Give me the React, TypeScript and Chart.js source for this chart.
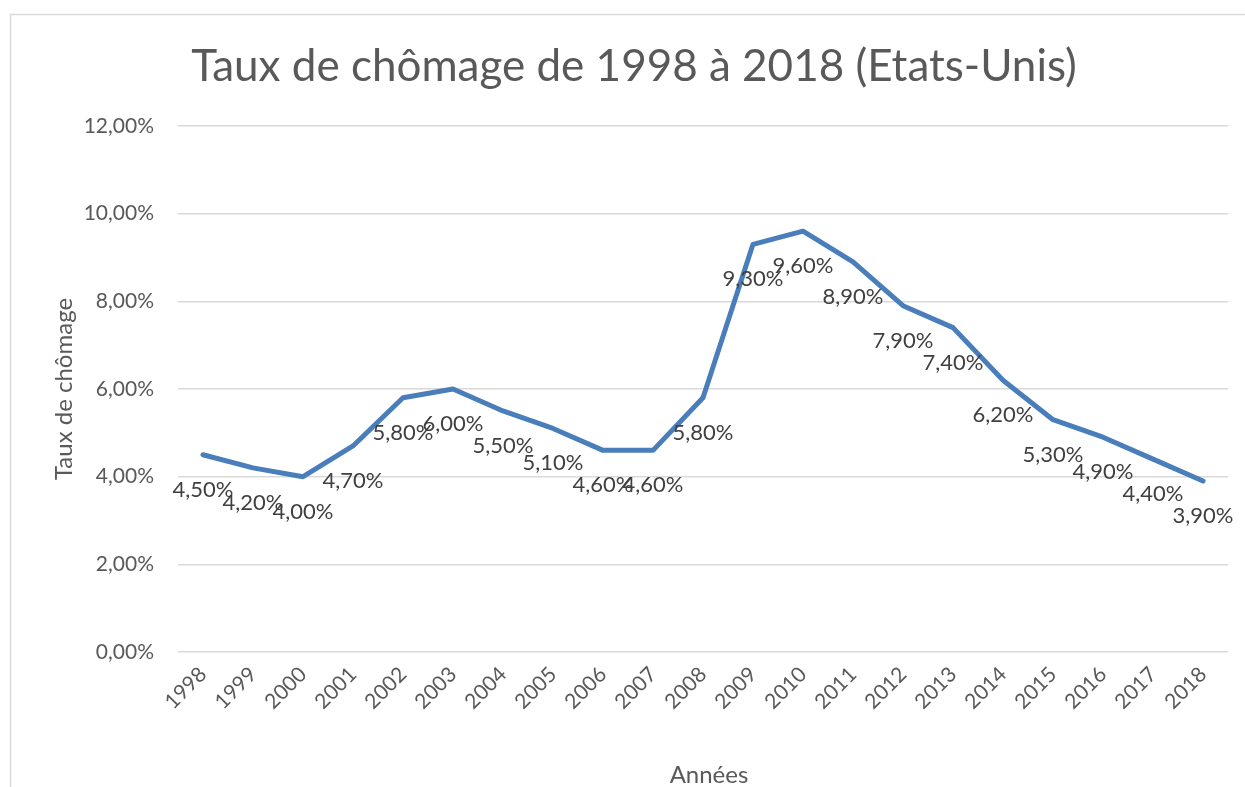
import React, { useEffect, useRef } from "react";
import { Chart, registerables } from "chart.js";

Chart.register(...registerables);

const years = ["1998","1999","2000","2001","2002","2003","2004","2005","2006","2007","2008","2009","2010","2011","2012","2013","2014","2015","2016","2017","2018"];
const rates = [4.5, 4.2, 4.0, 4.7, 5.8, 6.0, 5.5, 5.1, 4.6, 4.6, 5.8, 9.3, 9.6, 8.9, 7.9, 7.4, 6.2, 5.3, 4.9, 4.4, 3.9];
const titleText = "Taux de chômage de 1998 à 2018 (Etats-Unis)";
const yTitle = "Taux de chômage";
const xTitle = "Années";

const FONT = "Lato";
const fmt = (v: number) => v.toFixed(2).replace(".", ",") + "%";

const decorPlugin = {
  id: "decor",
  beforeDraw(chart: any) {
    const ctx = chart.ctx;
    ctx.save();
    ctx.fillStyle = "#ffffff";
    ctx.fillRect(0, 0, chart.width, chart.height);
    ctx.strokeStyle = "#d9d9d9";
    ctx.lineWidth = 1.5;
    ctx.beginPath();
    ctx.moveTo(10.5, chart.height);
    ctx.lineTo(10.5, 14.5);
    ctx.lineTo(chart.width, 14.5);
    ctx.stroke();
    ctx.restore();
  },
  afterDraw(chart: any) {
    const ctx = chart.ctx;
    ctx.save();
    ctx.fillStyle = "#595959";
    ctx.textAlign = "center";
    ctx.textBaseline = "alphabetic";
    ctx.font = `44px ${FONT}`;
    ctx.fillText(titleText, 634, 81);
    ctx.font = `24px ${FONT}`;
    ctx.fillText(xTitle, 709, 783);
    ctx.save();
    ctx.translate(64, 389);
    ctx.rotate(-Math.PI / 2);
    ctx.textBaseline = "middle";
    ctx.fillText(yTitle, 0, 0);
    ctx.restore();
    // data labels
    const meta = chart.getDatasetMeta(0);
    ctx.fillStyle = "#404040";
    ctx.font = `22px ${FONT}`;
    ctx.textAlign = "center";
    ctx.textBaseline = "alphabetic";
    meta.data.forEach((pt: any, i: number) => {
      ctx.fillText(fmt(rates[i]), pt.x, pt.y + 42);
    });
    ctx.restore();
  },
};

export default function App() {
  const ref = useRef<HTMLCanvasElement | null>(null);
  useEffect(() => {
    if (!ref.current) return;
    const chart = new Chart(ref.current, {
      type: "line",
      data: {
        labels: years,
        datasets: [
          {
            data: rates,
            borderColor: "#4a7ebb",
            borderWidth: 5,
            pointRadius: 0,
            tension: 0,
            borderJoinStyle: "round",
            borderCapStyle: "round",
            fill: false,
          },
        ],
      },
      options: {
        responsive: false,
        animation: false,
        layout: { padding: { top: 126, left: 0, right: 17, bottom: 0 } },
        plugins: {
          legend: { display: false },
          title: { display: false },
          tooltip: { enabled: false },
        },
        scales: {
          x: {
            offset: true,
            grid: { display: false, drawTicks: false },
            border: { display: false },
            ticks: {
              color: "#595959",
              font: { family: FONT, size: 21 },
              maxRotation: 45,
              minRotation: 45,
              padding: 10,
              autoSkip: false,
            },
            afterFit: (scale: any) => {
              scale.height = 135;
            },
          },
          y: {
            min: 0,
            max: 12,
            grid: { color: "#d9d9d9", lineWidth: 1.5, drawTicks: false },
            border: { display: false },
            ticks: {
              stepSize: 2,
              color: "#595959",
              font: { family: FONT, size: 21 },
              padding: 24,
              callback: (v: any) => fmt(Number(v)),
            },
            afterFit: (scale: any) => {
              scale.width = 178;
            },
          },
        },
      },
      plugins: [decorPlugin],
    });
    return () => chart.destroy();
  }, []);
  return (
    <div style={{ position: "absolute", left: 0, top: 0, width: 1245, height: 787, overflow: "hidden" }}>
      <canvas ref={ref} width={1245} height={787} style={{ display: "block" }} />
    </div>
  );
}
